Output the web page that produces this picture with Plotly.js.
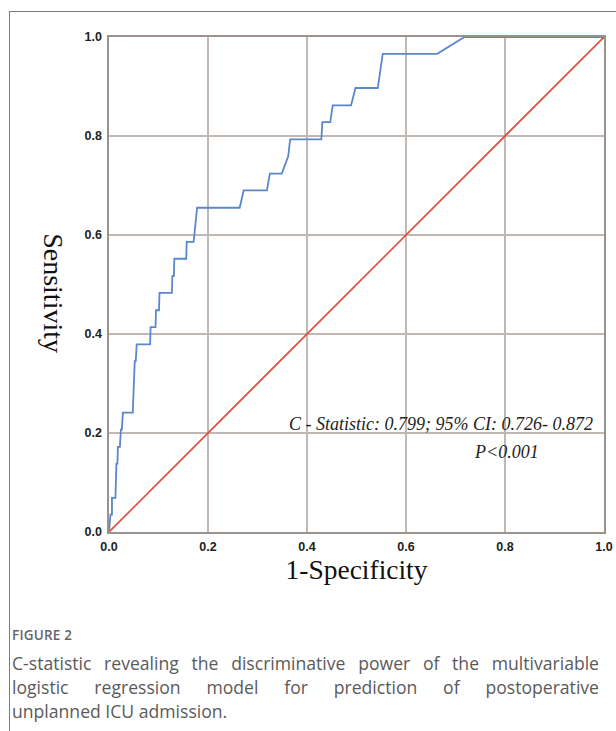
<!DOCTYPE html>
<html>
<head>
<meta charset="utf-8">
<script src="https://cdn.plot.ly/plotly-3.0.1.min.js"></script>
<style>
  html, body { margin: 0; padding: 0; background: #fff; }
  #wrap { position: relative; width: 616px; height: 731px; overflow: hidden; }
  #frame { position: absolute; left: 9px; top: 11px; width: 620px; height: 740px;
           border-left: 1px solid #7a7a7a; border-top: 1px solid #7a7a7a; }
  #chart { position: absolute; left: 0; top: 0; width: 616px; height: 731px; }
  #caption { position: absolute; left: 12px; top: 626px; width: 587px;
             font-family: "Open Sans", sans-serif; color: #5a5a5a; }
  #caption .fig { font-size: 13.5px; font-weight: 600; letter-spacing: 0.2px; color: #666; margin-bottom: 7px; }
  #caption .ln { font-size: 17.6px; line-height: 24px; white-space: nowrap; font-weight: 400; }
  #caption .j { text-align: justify; text-align-last: justify; white-space: normal; }
</style>
</head>
<body>
<div id="wrap">
  <div id="frame"></div>
  <div id="chart"></div>
  <div id="caption">
    <div class="fig">FIGURE 2</div>
    <div class="ln j">C-statistic revealing the discriminative power of the multivariable</div>
    <div class="ln j">logistic regression model for prediction of postoperative</div>
    <div class="ln">unplanned ICU admission.</div>
  </div>
</div>
<script>
// ROC curve points (1-Specificity, Sensitivity)
const fpr = [0.000, 0.003, 0.006, 0.006, 0.013, 0.015, 0.017, 0.018, 0.022, 0.024, 0.026, 0.028,
             0.048, 0.052, 0.054, 0.056, 0.083, 0.084, 0.094, 0.095, 0.101, 0.102, 0.127, 0.128,
             0.131, 0.132, 0.156, 0.157, 0.171, 0.178, 0.264, 0.272, 0.319, 0.325, 0.349, 0.358,
             0.362, 0.366, 0.429, 0.431, 0.447, 0.452, 0.489, 0.498, 0.543, 0.548, 0.553, 0.663, 0.718, 1.000];
const tpr = [0.000, 0.035, 0.035, 0.069, 0.069, 0.138, 0.138, 0.172, 0.172, 0.207, 0.207, 0.241,
             0.241, 0.345, 0.345, 0.379, 0.379, 0.414, 0.414, 0.448, 0.448, 0.483, 0.483, 0.517,
             0.517, 0.552, 0.552, 0.586, 0.586, 0.655, 0.655, 0.690, 0.690, 0.724, 0.724, 0.748,
             0.759, 0.793, 0.793, 0.828, 0.828, 0.862, 0.862, 0.897, 0.897, 0.931, 0.966, 0.966, 1.000, 1.000];
const refX = [0, 1];
const refY = [0, 1];
const tickVals = [0, 0.2, 0.4, 0.6, 0.8, 1.0];
const tickText = ["0.0", "0.2", "0.4", "0.6", "0.8", "1.0"];
const statText = "C - Statistic: 0.799; 95% CI: 0.726- 0.872";
const pText = "P&lt;0.001";

const traces = [
  { x: refX, y: refY, mode: "lines", line: { color: "#e8473b", width: 1.6 }, hoverinfo: "skip" },
  { x: fpr, y: tpr, mode: "lines", line: { color: "#5b87cc", width: 1.8 }, hoverinfo: "skip" }
];

const axisCommon = {
  range: [0, 1], tickvals: tickVals, ticktext: tickText, showgrid: true,
  gridcolor: "#c2b8b3", gridwidth: 1.2, zeroline: false, showline: true,
  linecolor: "#9a928e", linewidth: 1.6, mirror: true, ticks: "",
  tickfont: { family: "Liberation Sans, Arial, sans-serif", size: 12.5, color: "#222", weight: 600 }
};

const layout = {
  width: 616, height: 731,
  margin: { l: 109, r: 12, t: 37, b: 199 },
  paper_bgcolor: "rgba(0,0,0,0)", plot_bgcolor: "#fff",
  showlegend: false,
  xaxis: Object.assign({}, axisCommon, {
    ticklabelstandoff: 2,
    title: { text: "1-Specificity", standoff: 6,
             font: { family: "Liberation Serif, Times New Roman, serif", size: 27.5, color: "#111" } }
  }),
  yaxis: Object.assign({}, axisCommon, { ticklabelstandoff: 3 }),
  annotations: [
    { text: "Sensitivity", textangle: 90, xref: "paper", yref: "paper", x: -0.149, y: 0.483,
      showarrow: false, font: { family: "Liberation Serif, Times New Roman, serif", size: 28, color: "#111" } },
    { text: statText, xref: "x", yref: "y", x: 0.982, y: 0.219, xanchor: "right", yanchor: "middle",
      showarrow: false, font: { family: "Liberation Serif, Times New Roman, serif", size: 18, color: "#222" } },
    { text: pText, xref: "x", yref: "y", x: 0.804, y: 0.162, xanchor: "center", yanchor: "middle",
      showarrow: false, font: { family: "Liberation Serif, Times New Roman, serif", size: 18, color: "#222" } }
  ]
};
layout.annotations[1].text = "<i>" + statText + "</i>";
layout.annotations[2].text = "<i>" + pText + "</i>";

Plotly.newPlot("chart", traces, layout, { displayModeBar: false, staticPlot: true });
</script>
</body>
</html>
